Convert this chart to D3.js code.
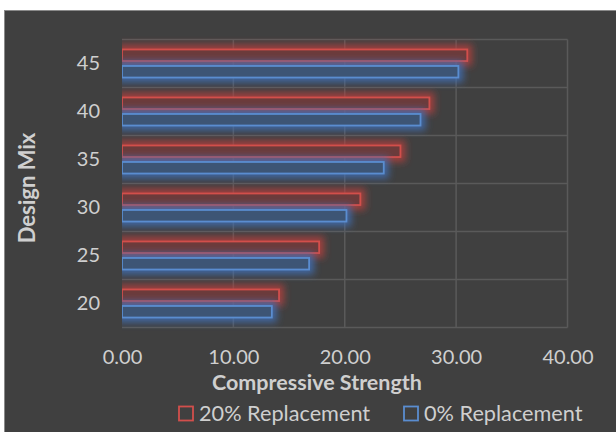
<!DOCTYPE html>
<html><head><meta charset="utf-8">
<script src="https://cdn.jsdelivr.net/npm/d3@7"></script>
<style>html,body{margin:0;padding:0;background:#fff;}svg{display:block;}</style>
</head><body>
<svg id="c" width="616" height="432"></svg>
<script>
const categories = ["45","40","35","30","25","20"];
const seriesNames = ["20% Replacement","0% Replacement"];
const replacement20 = [31.0, 27.6, 25.0, 21.4, 17.7, 14.1];
const replacement0 = [30.2, 26.8, 23.5, 20.15, 16.8, 13.45];
const xTicks = [0, 10, 20, 30, 40];
const seriesStroke = ["#d24f4c", "#5a8dd0"];
const seriesFill = ["#6c3b3b", "#3c5474"];
const seriesGlow = ["#b8403d", "#4170b8"];

(function(){
const svg = d3.select("#c");
const font = "Lato, 'Open Sans', sans-serif";
const textCol = "#cfcfcf";

// background
svg.append("rect").attr("x",4).attr("y",10).attr("width",612).attr("height",422)
  .attr("fill","#404040");
svg.append("line").attr("x1",4).attr("x2",616).attr("y1",10.5).attr("y2",10.5).attr("stroke","#8a8a8a").attr("stroke-width",1);
svg.append("line").attr("x1",4.5).attr("x2",4.5).attr("y1",10).attr("y2",432).attr("stroke","#8a8a8a").attr("stroke-width",1);

const pLeft = 122, pRight = 567.5, pTop = 39.5, pBottom = 327.5;
const x = d3.scaleLinear().domain([0,40]).range([pLeft,pRight]);
const y = d3.scaleBand().domain(categories).range([pTop,pBottom]).padding(0);
const ys = d3.scaleBand().domain(seriesNames).range([0,y.bandwidth()]).paddingInner(0.3).paddingOuter(0.605);

// filters for glow
const defs = svg.append("defs");
seriesGlow.forEach((c,i)=>{
  const f = defs.append("filter").attr("id","glow"+i).attr("x","-10%").attr("y","-150%").attr("width","120%").attr("height","400%");
  f.append("feMorphology").attr("in","SourceAlpha").attr("operator","dilate").attr("radius",3.5).attr("result","d");
  f.append("feGaussianBlur").attr("in","d").attr("stdDeviation",3.5).attr("result","b");
  f.append("feFlood").attr("flood-color",c).attr("flood-opacity",0.8).attr("result","fc");
  f.append("feComposite").attr("in","fc").attr("in2","b").attr("operator","in").attr("result","g");
  const m = f.append("feMerge");
  m.append("feMergeNode").attr("in","g");
  m.append("feMergeNode").attr("in","SourceGraphic");
});
defs.append("clipPath").attr("id","clipL").append("rect").attr("x",pLeft).attr("y",0).attr("width",600).attr("height",432);

// gridlines
const grid = svg.append("g");
grid.selectAll("line.v").data(xTicks.slice(1)).join("line")
  .attr("x1",d=>x(d)).attr("x2",d=>x(d)).attr("y1",pTop).attr("y2",pBottom)
  .attr("stroke","#5a5a5a").attr("stroke-width",1.5);
const hb = categories.map(c=>y(c)).concat([pBottom]);
grid.selectAll("line.h").data(hb).join("line")
  .attr("x1",pLeft).attr("x2",pRight).attr("y1",d=>d).attr("y2",d=>d)
  .attr("stroke","#5a5a5a").attr("stroke-width",1.5);

// bars
const seriesData = [replacement20, replacement0];
const barsG = svg.append("g").attr("clip-path","url(#clipL)");
seriesData.forEach((vals,si)=>{
  barsG.append("g").attr("filter","url(#glow"+si+")")
    .selectAll("rect").data(vals).join("rect")
    .attr("x",x(0)).attr("y",(d,i)=>y(categories[i])+ys(seriesNames[si]))
    .attr("width",d=>x(d)-x(0)).attr("height",ys.bandwidth())
    .attr("fill",seriesFill[si]).attr("stroke",seriesStroke[si]).attr("stroke-width",1.8);
});

// y axis labels
const yAxis = d3.axisLeft(y).tickSize(0).tickPadding(22);
const ya = svg.append("g").attr("transform",`translate(${pLeft},0)`).call(yAxis);
ya.select(".domain").remove();
ya.selectAll("text").attr("font-family",font).attr("font-size",20).attr("fill",textCol).attr("dy","0.34em");

// x axis labels
const xAxis = d3.axisBottom(x).tickValues(xTicks).tickFormat(d3.format(".2f")).tickSize(0).tickPadding(0);
const xa = svg.append("g").attr("transform",`translate(0,357)`).call(xAxis);
xa.select(".domain").remove();
xa.selectAll("text").attr("font-family",font).attr("font-size",20).attr("fill",textCol).attr("y",0).attr("dy","0.35em");

// axis titles
svg.append("text").attr("x",317).attr("y",382.5).attr("dy","0.35em").attr("text-anchor","middle")
  .attr("font-family",font).attr("font-weight","bold").attr("font-size",21.5).attr("fill",textCol)
  .text("Compressive Strength");
svg.append("text").attr("transform","translate(27,188) rotate(-90)").attr("dy","0.35em").attr("text-anchor","middle")
  .attr("font-family",font).attr("font-weight","bold").attr("font-size",22).attr("fill",textCol)
  .text("Design Mix");

// legend
const legX = [179, 404];
const leg = svg.append("g");
seriesNames.forEach((n,i)=>{
  leg.append("rect").attr("x",legX[i]).attr("y",406.5).attr("width",14).attr("height",14)
    .attr("fill","none").attr("stroke",seriesStroke[i]).attr("stroke-width",1.8);
  leg.append("text").attr("x",legX[i]+20).attr("y",413.5).attr("dy","0.35em")
    .attr("font-family",font).attr("font-size",21.7).attr("fill",textCol).text(n);
});
})();
</script>
</body></html>
